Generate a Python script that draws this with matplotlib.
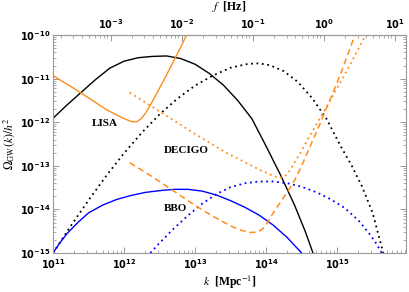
import numpy as np
import matplotlib.pyplot as plt
from matplotlib.ticker import FuncFormatter, LogLocator, NullFormatter, FixedLocator

# ============================================================
# DATA (log10 k, log10 Omega)
# ============================================================
# black solid
bs_logk = [11.0, 11.2, 11.4, 11.6, 11.8, 12.0, 12.2, 12.4, 12.6, 12.8, 13.0, 13.2, 13.4, 13.6,
           13.8, 14.0, 14.2, 14.4, 14.55, 14.66]
bs_logo = [-11.91, -11.60, -11.31, -11.02, -10.76, -10.60, -10.52, -10.49, -10.48, -10.54, -10.67,
           -10.88, -11.15, -11.50, -11.92, -12.55, -13.20, -13.90, -14.50, -15.0]
# black dotted
bd_logk = [11.0, 11.25, 11.5, 11.75, 12.0, 12.25, 12.5, 12.75, 13.0, 13.25, 13.5, 13.75, 13.9,
           14.05, 14.25, 14.45, 14.65, 14.85, 15.05, 15.2, 15.35, 15.5, 15.65]
bd_logo = [-15.0, -14.38, -13.79, -13.23, -12.71, -12.24, -11.82, -11.46, -11.16, -10.93, -10.75,
           -10.66, -10.65, -10.69, -10.83, -11.08, -11.45, -11.92, -12.55, -12.98, -13.47, -14.08, -15.0]
# blue solid
us_logk = [11.0, 11.1, 11.2, 11.35, 11.5, 11.7, 11.9, 12.1, 12.3, 12.5, 12.7, 12.9, 13.1, 13.3,
           13.5, 13.7, 13.9, 14.1, 14.3, 14.5]
us_logo = [-15.0, -14.76, -14.55, -14.30, -14.08, -13.90, -13.77, -13.68, -13.61, -13.57, -13.54,
           -13.54, -13.58, -13.67, -13.80, -13.95, -14.13, -14.36, -14.65, -15.0]
# blue dotted
ud_logk = [12.37, 12.5, 12.7, 12.9, 13.1, 13.3, 13.5, 13.7, 13.9, 14.1, 14.3, 14.5, 14.7, 14.9,
           15.1, 15.3, 15.45, 15.55, 15.63]
ud_logo = [-15.0, -14.77, -14.44, -14.14, -13.87, -13.65, -13.49, -13.40, -13.36, -13.36, -13.40,
           -13.48, -13.60, -13.76, -13.96, -14.25, -14.55, -14.78, -15.0]
# orange solid (LISA)
os_logk = [11.0, 11.25, 11.5, 11.75, 11.95, 12.05, 12.12, 12.18, 12.24, 12.30, 12.40, 12.50,
           12.60, 12.70, 12.80, 12.88]
os_logo = [-10.93, -11.18, -11.44, -11.71, -11.88, -11.95, -11.99, -11.99, -11.92, -11.80, -11.52,
           -11.22, -10.91, -10.59, -10.27, -10.0]
# orange dotted
od_logk = [12.08, 12.51, 12.98, 13.45, 13.92, 14.10, 14.18, 14.24, 14.30, 14.38, 14.48, 14.60,
           14.78, 15.0, 15.2, 15.4]
od_logo = [-11.32, -11.76, -12.25, -12.71, -13.10, -13.23, -13.27, -13.27, -13.18, -12.99, -12.71,
           -12.35, -11.85, -11.22, -10.63, -10.0]
# orange dashed
oh_logk = [12.08, 12.3, 12.5, 12.7, 12.9, 13.1, 13.3, 13.5, 13.65, 13.78, 13.88, 13.95, 14.02,
           14.1, 14.2, 14.3, 14.4, 14.5, 14.6, 14.75, 14.9, 15.05, 15.25]
oh_logo = [-12.93, -13.15, -13.36, -13.58, -13.80, -14.01, -14.20, -14.38, -14.48, -14.53, -14.52,
           -14.45, -14.30, -14.08, -13.84, -13.60, -13.34, -13.00, -12.63, -12.07, -11.49, -10.89, -10.0]

# tick decades
k_ticks = [1e11, 1e12, 1e13, 1e14, 1e15]
f_ticks = [1e-3, 1e-2, 1e-1, 1e0, 1e1]
om_ticks = [1e-15, 1e-14, 1e-13, 1e-12, 1e-11, 1e-10]

KHZ = 1.546e-15   # f [Hz] per k [Mpc^-1]

ORANGE = '#FF8C1A'
BLUE = '#0000FF'

def p(a):
    return 10.0 ** np.array(a)

# ============================================================
# FIGURE
# ============================================================
fig = plt.figure(figsize=(4.09, 2.92), dpi=100)
ax = fig.add_axes([0.1296, 0.1336, 0.8631, 0.7464])

DOT = (0, (1, 2))
ax.plot(p(bs_logk), p(bs_logo), color='black', lw=1.0)
ax.plot(p(bd_logk), p(bd_logo), color='black', lw=1.3, ls=DOT)
ax.plot(p(us_logk), p(us_logo), color=BLUE, lw=1.0)
ax.plot(p(ud_logk), p(ud_logo), color=BLUE, lw=1.3, ls=DOT)
ax.plot(p(os_logk), p(os_logo), color=ORANGE, lw=1.0)
ax.plot(p(od_logk), p(od_logo), color=ORANGE, lw=1.3, ls=DOT)
ax.plot(p(oh_logk), p(oh_logo), color=ORANGE, lw=1.1, ls=(0, (4, 2.5)))

ax.set_xscale('log')
ax.set_yscale('log')
ax.set_xlim(1e11, 10**15.97)
ax.set_ylim(1e-15, 1e-10)

lab = dict(family='Liberation Serif', fontweight='bold', fontsize=8, ha='center', va='center')
ax.text(10**11.73, 10**-12.02, 'LISA', **lab)
ax.text(10**12.88, 10**-12.66, 'DECIGO', **lab)
ax.text(10**12.72, 10**-13.99, 'BBO', **lab)

fmt = FuncFormatter(lambda v, pos: r'$\mathbf{10^{%d}}$' % round(np.log10(v)))

def style_ticks(a, axis):
    a.tick_params(axis=axis, which='both', direction='in', labelsize=7, color='#888888')
    a.tick_params(axis=axis, which='major', length=4, width=0.6)
    a.tick_params(axis=axis, which='minor', length=2, width=0.5)

style_ticks(ax, 'both')
ax.tick_params(which='both', top=False, right=True)
ax.tick_params(axis='x', pad=3)
ax.tick_params(axis='y', pad=2)
for axis, ticks in ((ax.xaxis, k_ticks), (ax.yaxis, om_ticks)):
    axis.set_major_locator(FixedLocator(ticks))
    axis.set_minor_locator(LogLocator(10, subs=np.arange(2, 10), numticks=10))
    axis.set_major_formatter(fmt)
    axis.set_minor_formatter(NullFormatter())

for s in ax.spines.values():
    s.set_color('#999999')
    s.set_linewidth(0.8)

# top axis: frequency
top = ax.secondary_xaxis('top', functions=(lambda k: k * KHZ, lambda f: f / KHZ))
top.set_xscale('log')
top.xaxis.set_major_locator(FixedLocator(f_ticks))
top.xaxis.set_minor_locator(LogLocator(10, subs=np.arange(2, 10), numticks=10))
top.xaxis.set_major_formatter(fmt)
top.xaxis.set_minor_formatter(NullFormatter())
style_ticks(top, 'x')
top.tick_params(axis='x', pad=3)
top.spines['top'].set_color('#999999')
top.spines['top'].set_linewidth(0.8)
top.set_xlabel(r'$f$  [Hz]', family='Liberation Serif', fontweight='bold', fontsize=8.5,
               math_fontfamily='stix', labelpad=5)

ax.set_xlabel(r'$k$  [Mpc$^{-1}$]', family='Liberation Serif', fontweight='bold', fontsize=8.5,
              math_fontfamily='stix', labelpad=2)
ax.set_ylabel(r'$\Omega_{\rm GW}(k)/h^2$', family='Liberation Serif', fontsize=8.5,
              math_fontfamily='stix', labelpad=2)

plt.savefig('out.png', dpi=100)
